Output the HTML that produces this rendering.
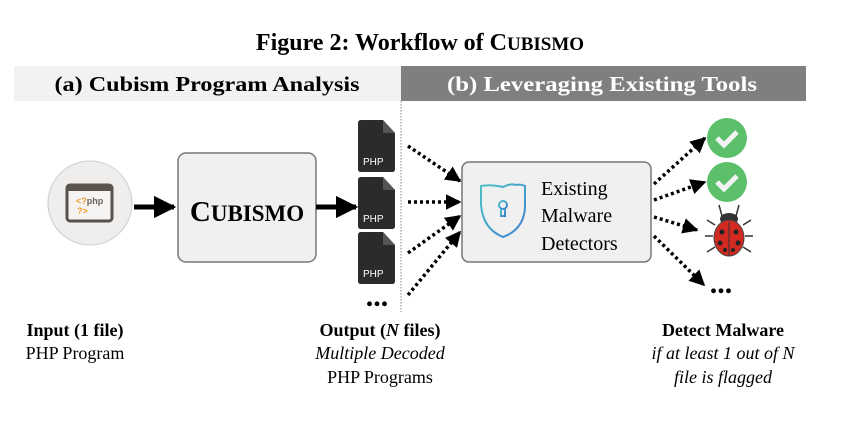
<!DOCTYPE html>
<html><head><meta charset="utf-8"><style>
html,body{margin:0;padding:0;background:#fff;width:864px;height:434px;overflow:hidden}
text{font-family:"Liberation Serif",serif}
</style></head><body>
<svg width="864" height="434" viewBox="0 0 864 434" xmlns="http://www.w3.org/2000/svg">
<defs>
<marker id="ah" viewBox="0 0 10 10" refX="9" refY="5" markerWidth="4.5" markerHeight="4.5" orient="auto"><path d="M0,0L10,5L0,10z" fill="#000"/></marker>
<marker id="ahs" viewBox="0 0 10 10" refX="9" refY="5" markerWidth="4.5" markerHeight="4.5" orient="auto"><path d="M0,0L10,5L0,10z" fill="#000"/></marker>
</defs>
<text x="420" y="50" text-anchor="middle" font-size="24" font-weight="bold">Figure 2: Workflow of C<tspan font-size="19">UBISMO</tspan></text>
<rect x="14" y="66" width="387" height="35" fill="#f2f2f2"/>
<rect x="401" y="66" width="405" height="35" fill="#7f7f7f"/>
<text x="207" y="91" text-anchor="middle" font-size="21" font-weight="bold" textLength="305" lengthAdjust="spacingAndGlyphs">(a) Cubism Program Analysis</text>
<text x="602" y="91" text-anchor="middle" font-size="21" font-weight="bold" fill="#fff" textLength="310" lengthAdjust="spacingAndGlyphs">(b) Leveraging Existing Tools</text>
<line x1="401" y1="101" x2="401" y2="312" stroke="#999" stroke-width="1.2" stroke-dasharray="1.5,1.5"/>
<circle cx="90" cy="203" r="42" fill="#f0eeec" stroke="#ccc"/>
<rect x="67" y="185" width="45" height="36" rx="3" fill="#f6f4f2" stroke="#5a524c" stroke-width="3"/>
<rect x="67" y="185" width="45" height="6" fill="#5a524c"/>
<text x="76" y="204" font-size="9" font-weight="bold" fill="#f39a2b" style="font-family:'Liberation Sans'">&lt;?<tspan fill="#6b625c">php</tspan></text>
<text x="77" y="214" font-size="9" font-weight="bold" fill="#f39a2b" style="font-family:'Liberation Sans'">?&gt;</text>
<line x1="134" y1="207" x2="174" y2="207" stroke="#000" stroke-width="5" marker-end="url(#ah)"/>
<rect x="178" y="153" width="138" height="109" rx="8" fill="#f0f0f0" stroke="#777" stroke-width="1.5"/>
<text x="247" y="221" text-anchor="middle" font-size="29" font-weight="bold">C<tspan font-size="23">UBISMO</tspan></text>
<line x1="316" y1="207" x2="356" y2="207" stroke="#000" stroke-width="5" marker-end="url(#ah)"/>
<g>
<g transform="translate(358,120)"><path d="M0,3Q0,0 3,0H25L37,13V49Q37,52 34,52H3Q0,52 0,49Z" fill="#2b2b2b"/><path d="M25,0V13H37Z" fill="#555"/><text x="5" y="45" style="font-family:'Liberation Sans'" font-size="10" fill="#fff">PHP</text></g>
<g transform="translate(358,177)"><path d="M0,3Q0,0 3,0H25L37,13V49Q37,52 34,52H3Q0,52 0,49Z" fill="#2b2b2b"/><path d="M25,0V13H37Z" fill="#555"/><text x="5" y="45" style="font-family:'Liberation Sans'" font-size="10" fill="#fff">PHP</text></g>
<g transform="translate(358,232)"><path d="M0,3Q0,0 3,0H25L37,13V49Q37,52 34,52H3Q0,52 0,49Z" fill="#2b2b2b"/><path d="M25,0V13H37Z" fill="#555"/><text x="5" y="45" style="font-family:'Liberation Sans'" font-size="10" fill="#fff">PHP</text></g>
</g>
<text x="377" y="306" text-anchor="middle" font-size="30" font-weight="bold">...</text>
<g stroke="#000" stroke-width="3.5" stroke-dasharray="3,3" fill="none" marker-end="url(#ahs)">
<line x1="408" y1="146" x2="460" y2="181"/>
<line x1="408" y1="202" x2="460" y2="202"/>
<line x1="408" y1="253" x2="460" y2="216"/>
<line x1="408" y1="295" x2="460" y2="232"/>
</g>
<rect x="462" y="162" width="189" height="100" rx="7" fill="#f0f0f0" stroke="#777" stroke-width="1.5"/>
<defs><linearGradient id="sg" x1="0" y1="0" x2="1" y2="1"><stop offset="0" stop-color="#4fc3c8"/><stop offset="1" stop-color="#3b7fd0"/></linearGradient></defs>
<path d="M503,187Q511,183 516,185Q521,184 525,186V205Q525,229 503,237Q483,229 481,205V186Q490,184 503,187Z" fill="none" stroke="url(#sg)" stroke-width="2"/>
<circle cx="503" cy="205" r="4" fill="none" stroke="url(#sg)" stroke-width="2"/>
<path d="M501,209V216H505V209" fill="none" stroke="url(#sg)" stroke-width="2"/>
<text x="541" y="195" font-size="20">Existing</text>
<text x="541" y="222" font-size="20">Malware</text>
<text x="541" y="250" font-size="20">Detectors</text>
<g stroke="#000" stroke-width="3.5" stroke-dasharray="3,3" fill="none" marker-end="url(#ahs)">
<line x1="654" y1="184" x2="705" y2="138"/>
<line x1="654" y1="200" x2="705" y2="182"/>
<line x1="654" y1="217" x2="697" y2="230"/>
<line x1="654" y1="236" x2="704" y2="285"/>
</g>
<circle cx="727" cy="138" r="20" fill="#5cbf6a"/>
<path d="M717,138L724,145L737,132" fill="none" stroke="#f2f2f2" stroke-width="5"/>
<circle cx="727" cy="182" r="20" fill="#5cbf6a"/>
<path d="M717,182L724,189L737,176" fill="none" stroke="#f2f2f2" stroke-width="5"/>
<g stroke="#333" stroke-width="1.5" fill="none">
<path d="M722,216L719,205M736,216L739,205"/>
<path d="M715,225L707,220M743,225L751,220M713,236L705,236M745,236L753,236M715,247L707,252M743,247L751,252"/>
</g>
<ellipse cx="729" cy="219" rx="9" ry="6" fill="#333"/>
<ellipse cx="729" cy="238" rx="15" ry="18" fill="#d22a20" stroke="#444"/>
<line x1="729" y1="222" x2="729" y2="256" stroke="#333"/>
<g fill="#222"><circle cx="722" cy="232" r="2.5"/><circle cx="736" cy="232" r="2.5"/><circle cx="720" cy="243" r="2.5"/><circle cx="738" cy="243" r="2.5"/><circle cx="725" cy="250" r="2"/><circle cx="733" cy="250" r="2"/></g>
<text x="721" y="293" text-anchor="middle" font-size="30" font-weight="bold">...</text>
<text x="75" y="336" text-anchor="middle" font-size="18" font-weight="bold">Input (1 file)</text>
<text x="75" y="359" text-anchor="middle" font-size="18">PHP Program</text>
<text x="380" y="336" text-anchor="middle" font-size="18" font-weight="bold">Output (<tspan font-style="italic">N</tspan> files)</text>
<text x="380" y="359" text-anchor="middle" font-size="18" font-style="italic">Multiple Decoded</text>
<text x="380" y="383" text-anchor="middle" font-size="18">PHP Programs</text>
<text x="723" y="336" text-anchor="middle" font-size="18" font-weight="bold">Detect Malware</text>
<text x="723" y="359" text-anchor="middle" font-size="18" font-style="italic">if at least 1 out of N</text>
<text x="723" y="383" text-anchor="middle" font-size="18" font-style="italic">file is flagged</text>
</svg>
</body></html>
